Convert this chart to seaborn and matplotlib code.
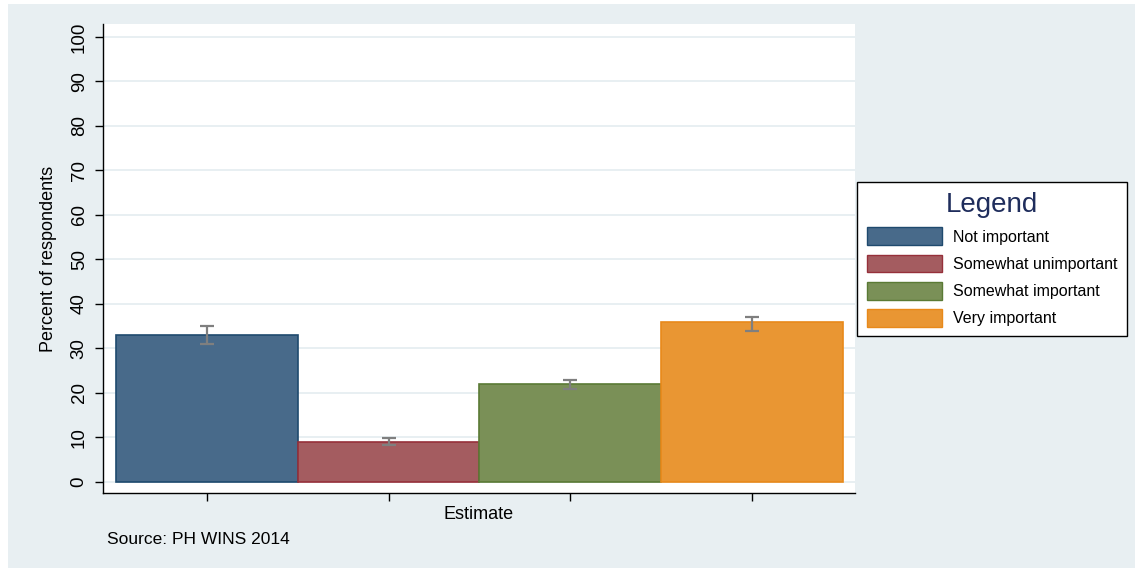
import numpy as np
import pandas as pd
import matplotlib
matplotlib.use('Agg')
import matplotlib.pyplot as plt
import matplotlib.patches as mpatches
import seaborn as sb

categories = ['Not important', 'Somewhat unimportant', 'Somewhat important', 'Very important']
estimates = [33.0, 9.0, 22.0, 36.0]
ci_low = [31.0, 8.4, 20.9, 34.0]
ci_high = [35.0, 9.9, 22.9, 37.1]

fills = ['#486A8A', '#A45C60', '#7A9057', '#E99633']
edges = ['#1F4A6E', '#96303A', '#5A7A35', '#E8891A']

sb.set_style('white')
plt.rcParams['font.family'] = ['Liberation Sans', 'DejaVu Sans']
plt.rcParams['text.color'] = 'black'
plt.rcParams['axes.labelcolor'] = 'black'
plt.rcParams['xtick.color'] = 'black'
plt.rcParams['ytick.color'] = 'black'

df = pd.DataFrame({'category': categories, 'estimate': estimates})

fig = plt.figure(figsize=(11.43, 5.72), dpi=100)
fig.patch.set_facecolor('white')
# light blue-grey panel behind everything
fig.patches.append(mpatches.Rectangle((8 / 1143, 4 / 572), 1127 / 1143, 564 / 572,
                                      transform=fig.transFigure, facecolor='#E8EFF2',
                                      edgecolor='none', zorder=-5))

ax = fig.add_axes([103 / 1143, 1 - 493 / 572, 752 / 1143, 469 / 572])
ax.set_facecolor('white')

sb.barplot(data=df, x='category', y='estimate', hue='category', palette=fills,
           saturation=1, width=1.0, dodge=False, legend=False, ax=ax, zorder=3)
for patch, ec in zip(ax.patches, edges):
    patch.set_edgecolor(ec)
    patch.set_linewidth(1.2)

xpos = np.arange(len(categories))
lower = np.array(estimates) - np.array(ci_low)
upper = np.array(ci_high) - np.array(estimates)
ax.errorbar(xpos, estimates, yerr=[lower, upper], fmt='none', ecolor='#7F7F7F',
            elinewidth=1.6, capsize=5, capthick=1.6, zorder=4)

ax.set_xlim(-0.5715, 3.566)
ax.set_ylim(-2.47, 102.9)
ax.set_yticks(range(0, 101, 10))
ax.set_yticklabels([str(v) for v in range(0, 101, 10)], rotation=90, va='center', fontsize=13.5)
ax.set_xticks(xpos)
ax.set_xticklabels([''] * len(categories))
ax.tick_params(axis='both', direction='out', length=6, width=1, color='black',
               labelcolor='black', left=True, bottom=True)
ax.tick_params(axis='y', pad=5)
ax.yaxis.grid(True, color='#E6EEF1', linewidth=1.3, zorder=0)
ax.set_axisbelow(True)
for side in ['top', 'right']:
    ax.spines[side].set_visible(False)
for side in ['left', 'bottom']:
    ax.spines[side].set_color('black')
    ax.spines[side].set_linewidth(1.0)

ax.set_xlabel('Estimate', fontsize=13, labelpad=0, color='black')
ax.set_ylabel('Percent of respondents', fontsize=13, labelpad=10, color='black')

handles = [mpatches.Patch(facecolor=f, edgecolor=e, label=c) for f, e, c in zip(fills, edges, categories)]
leg = fig.legend(handles=handles, loc='upper left', bbox_to_anchor=(857 / 1143, 1 - 182 / 572),
                 borderaxespad=0, title='Legend', fontsize=11.5, title_fontsize=20,
                 frameon=True, fancybox=False, framealpha=1,
                 handlelength=4.7, handleheight=1.3, labelspacing=0.62, borderpad=0.6,
                 handletextpad=0.7, labelcolor='black')
leg.get_title().set_color('#1F2D5C')
leg.get_frame().set_facecolor('white')
leg.get_frame().set_edgecolor('black')
leg.get_frame().set_linewidth(1.0)

fig.text(107 / 1143, 1 - 540 / 572, 'Source: PH WINS 2014', fontsize=12.5, va='center',
         ha='left', color='black')

fig.savefig('out.png', dpi=100)
